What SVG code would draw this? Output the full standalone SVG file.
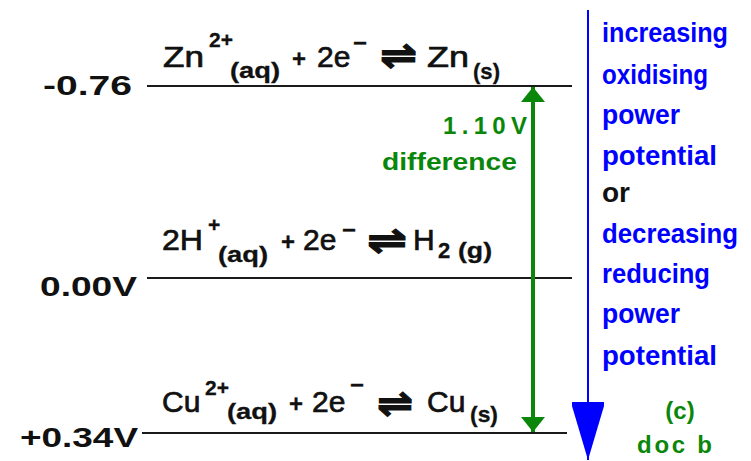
<svg xmlns="http://www.w3.org/2000/svg" width="751" height="461" viewBox="0 0 751 461">
<style>
.lvl{stroke:#1a1a1a;stroke-width:2.2;fill:none}
.lab{font-family:"Liberation Sans",Arial,sans-serif;font-weight:bold;font-size:27px;fill:#111}
.eq{font-family:"Liberation Sans",Arial,sans-serif;font-size:30px;fill:#111;stroke:#111;stroke-width:0.7}
.sup{font-size:21px;font-weight:bold;stroke-width:0.3}
.st{font-size:22px;font-weight:bold;stroke-width:0.3}
.pl{font-size:24px;font-weight:bold;stroke-width:0.3}
.arr{font-family:"DejaVu Sans",sans-serif;font-size:38px;font-weight:bold;stroke-width:1.2}
.blue{font-family:"Liberation Sans",Arial,sans-serif;font-weight:bold;font-size:27px;fill:#0000ff}
.blk{fill:#111}
.grn{font-family:"Liberation Sans",Arial,sans-serif;font-weight:bold;font-size:24px;fill:#0a870a}
</style>
<defs>
<marker id="gh" viewBox="0 0 15 24" refX="15" refY="12" markerWidth="15" markerHeight="24" markerUnits="userSpaceOnUse" orient="auto-start-reverse">
<path d="M0,0 L15,12 L0,24 z" fill="#0a870a"/>
</marker>
<marker id="bh" viewBox="0 0 58 32" refX="58" refY="16" markerWidth="58" markerHeight="32" markerUnits="userSpaceOnUse" orient="auto">
<path d="M0,0 L4,0 L58,16 L4,32 L0,32 z" fill="#0000ff"/>
</marker>
</defs>

<g id="zn-level">
<line class="lvl" x1="147" y1="86" x2="572" y2="86"/>
<text class="lab" x="43" y="95" textLength="89" lengthAdjust="spacingAndGlyphs">-0.76</text>
<text class="eq" y="67"><tspan x="163" textLength="41" lengthAdjust="spacingAndGlyphs">Zn</tspan><tspan class="sup" x="209" y="47">2+</tspan><tspan class="st" x="230" y="78" textLength="50" lengthAdjust="spacingAndGlyphs">(aq)</tspan><tspan class="pl" x="292" y="67">+</tspan><tspan x="317" y="67">2e</tspan><tspan class="pl" x="353" y="51">−</tspan><tspan class="arr" x="380" y="68" textLength="37" lengthAdjust="spacingAndGlyphs">⇌</tspan><tspan x="427" y="67" textLength="42" lengthAdjust="spacingAndGlyphs">Zn</tspan><tspan class="st" x="473" y="79" textLength="27" lengthAdjust="spacingAndGlyphs">(s)</tspan></text>
</g>

<g id="h-level">
<line class="lvl" x1="147" y1="278" x2="572" y2="278"/>
<text class="lab" x="40" y="296" textLength="97" lengthAdjust="spacingAndGlyphs">0.00V</text>
<text class="eq" y="250"><tspan x="162" textLength="41" lengthAdjust="spacingAndGlyphs">2H</tspan><tspan class="sup" x="208" y="232">+</tspan><tspan class="st" x="218" y="262" textLength="50" lengthAdjust="spacingAndGlyphs">(aq)</tspan><tspan class="pl" x="281" y="250">+</tspan><tspan x="303" y="250">2e</tspan><tspan class="pl" x="342" y="238">−</tspan><tspan class="arr" x="367" y="253" textLength="40" lengthAdjust="spacingAndGlyphs">⇌</tspan><tspan x="413" y="250">H</tspan><tspan class="st" x="438" y="258">2</tspan><tspan class="st" x="458" y="258" textLength="34" lengthAdjust="spacingAndGlyphs">(g)</tspan></text>
</g>

<g id="cu-level">
<line class="lvl" x1="142" y1="433" x2="567" y2="433"/>
<text class="lab" x="20" y="447" textLength="118" lengthAdjust="spacingAndGlyphs">+0.34V</text>
<text class="eq" y="412"><tspan x="162">Cu</tspan><tspan class="sup" x="205" y="395">2+</tspan><tspan class="st" x="227" y="419" textLength="50" lengthAdjust="spacingAndGlyphs">(aq)</tspan><tspan class="pl" x="289" y="412">+</tspan><tspan x="312" y="412">2e</tspan><tspan class="pl" x="350" y="393">−</tspan><tspan class="arr" x="377" y="416" textLength="36" lengthAdjust="spacingAndGlyphs">⇌</tspan><tspan x="427" y="412">Cu</tspan><tspan class="st" x="470" y="422" textLength="28" lengthAdjust="spacingAndGlyphs">(s)</tspan></text>
</g>

<g id="difference-label">
<text class="grn" x="527" y="134" text-anchor="end" textLength="84" lengthAdjust="spacing">1.10V</text>
<text class="grn" x="382" y="170" textLength="135" lengthAdjust="spacingAndGlyphs">difference</text>
</g>

<g id="trend-label">
<text class="blue" x="602" y="42" textLength="126" lengthAdjust="spacingAndGlyphs">increasing</text>
<text class="blue" x="602" y="84" textLength="106" lengthAdjust="spacingAndGlyphs">oxidising</text>
<text class="blue" x="602" y="124" textLength="78" lengthAdjust="spacingAndGlyphs">power</text>
<text class="blue" x="602" y="165" textLength="115" lengthAdjust="spacingAndGlyphs">potential</text>
<text class="blue blk" x="602" y="202" textLength="28" lengthAdjust="spacingAndGlyphs">or</text>
<text class="blue" x="602" y="243" textLength="136" lengthAdjust="spacingAndGlyphs">decreasing</text>
<text class="blue" x="602" y="283" textLength="108" lengthAdjust="spacingAndGlyphs">reducing</text>
<text class="blue" x="602" y="323" textLength="78" lengthAdjust="spacingAndGlyphs">power</text>
<text class="blue" x="602" y="365" textLength="115" lengthAdjust="spacingAndGlyphs">potential</text>
</g>

<g id="credit">
<text class="grn" x="680" y="419" text-anchor="middle">(c)</text>
<text class="grn" x="637" y="453" textLength="75" lengthAdjust="spacing">doc b</text>
</g>

<g id="connectors">
<line x1="533" y1="87" x2="533" y2="432" stroke="#0a870a" stroke-width="4" marker-start="url(#gh)" marker-end="url(#gh)"/>
<line x1="588" y1="10" x2="588" y2="460" stroke="#0000ff" stroke-width="2" marker-end="url(#bh)"/>
</g>
</svg>
